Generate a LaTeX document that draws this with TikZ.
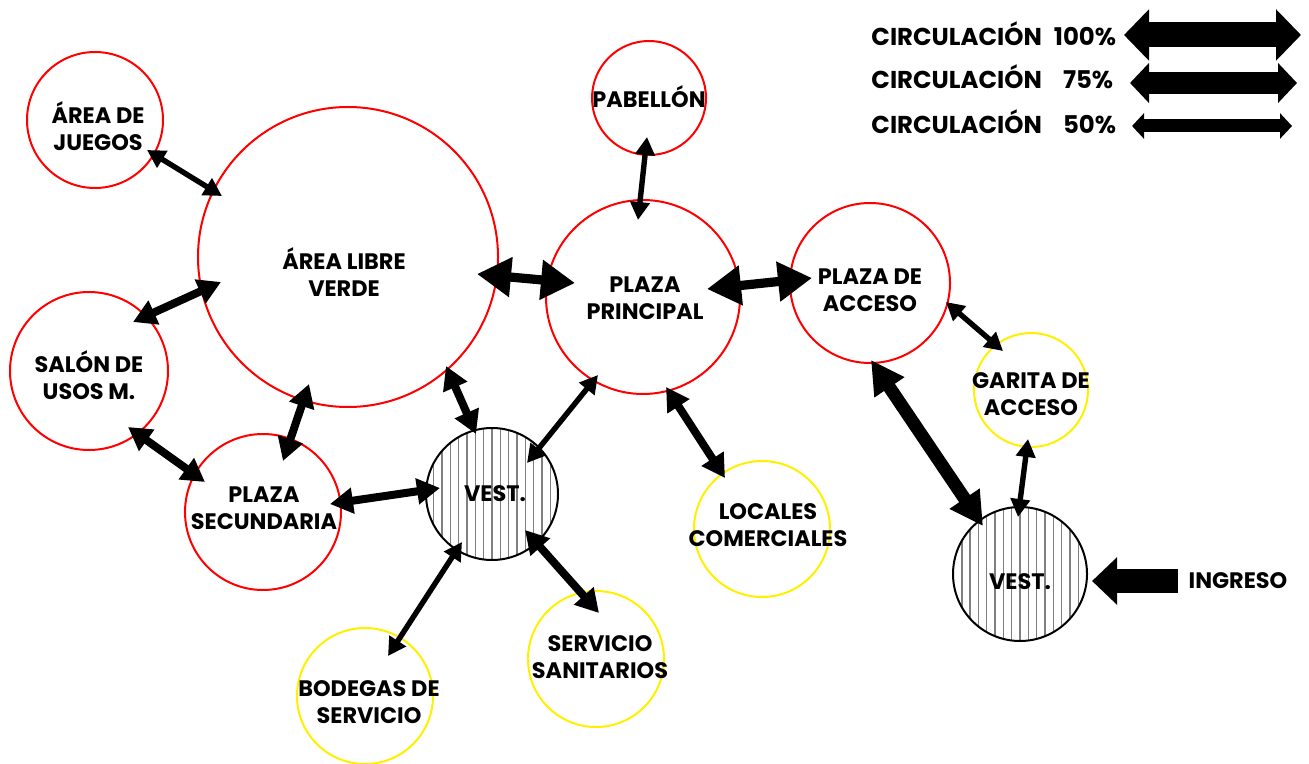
\documentclass[tikz,border=0pt]{standalone}
\usepackage{fontspec}
\setmainfont{Poppins}
\usetikzlibrary{arrows.meta}
\begin{document}
\begin{tikzpicture}[x=0.5pt,y=-0.5pt,
  redc/.style={circle, draw=red, line width=1pt, inner sep=0pt},
  yelc/.style={circle, draw={rgb,255:red,255;green,240;blue,0}, line width=1pt, inner sep=0pt},
  vestc/.style={circle, draw=black, line width=1pt, inner sep=0pt},
  lbl/.style={font=\fontsize{11.2}{13.7}\selectfont\bfseries, align=center, inner sep=0pt},
  leglbl/.style={font=\fontsize{12.2}{14}\selectfont\bfseries, inner sep=0pt, anchor=west},
  hatchline/.style={draw=gray, line width=0.8pt},
  c50/.style={line width=2.7pt, <->, >={Triangle[length=9pt,width=9.5pt]}},
  c75/.style={line width=4pt, <->, >={Triangle[length=11.5pt,width=12.5pt]}},
  c100/.style={line width=4.6pt, <->, >={Triangle[length=17pt,width=19pt]}},
  cbig/.style={line width=6.5pt, <->, >={Triangle[length=16.5pt,width=17pt]}},
  leg100/.style={line width=12.5pt, <->, >={Triangle[length=12.5pt,width=25pt]}},
  leg75/.style={line width=11pt, <->, >={Triangle[length=9.5pt,width=19.5pt]}},
  leg50/.style={line width=6.5pt, <->, >={Triangle[length=6pt,width=12.5pt]}},
  ingarrow/.style={line width=12pt, ->, >={Triangle[length=12.5pt,width=23pt]}}
]
\useasboundingbox (0,0) rectangle (1309,764);

% hatch of the two vestibules
\coordinate (v1c) at (492,494);
\coordinate (v2c) at (1020,574);
\begin{scope}
  \clip (v1c) circle[radius=33pt];
  \foreach \i in {-8,...,8} \draw[hatchline] ({492+8.33*\i},420) -- ({492+8.33*\i},570);
\end{scope}
\begin{scope}
  \clip (v2c) circle[radius=33.5pt];
  \foreach \i in {-8,...,8} \draw[hatchline] ({1020+8.33*\i},500) -- ({1020+8.33*\i},650);
\end{scope}

% circles
\node[redc, minimum size=68pt] (juegos) at (95,120) {};
\node[redc, minimum size=150pt] (libre) at (348,257) {};
\node[redc, minimum size=57pt] (pabellon) at (649,98) {};
\node[redc, minimum size=97pt] (plazap) at (643,297) {};
\node[redc, minimum size=80pt] (plazaacc) at (870,283) {};
\node[yelc, minimum size=57pt] (garita) at (1031,390) {};
\node[redc, minimum size=79pt] (salon) at (89,371) {};
\node[redc, minimum size=78pt] (plazasec) at (263,512) {};
\node[vestc, minimum size=66pt] (vest1) at (v1c) {};
\node[yelc, minimum size=68pt] (locales) at (762,529) {};
\node[vestc, minimum size=67pt] (vest2) at (v2c) {};
\node[yelc, minimum size=68pt] (bodegas) at (365,696) {};
\node[yelc, minimum size=68pt] (sanit) at (596,659) {};

% labels
\node[lbl] (tjuegos) at (98,126) {ÁREA DE\\JUEGOS};
\node[lbl] (tlibre) at (344,272) {ÁREA LIBRE\\VERDE};
\node[lbl] (tpabellon) at (649,97) {PABELLÓN};
\node[lbl] (tplazap) at (645,298) {PLAZA\\PRINCIPAL};
\node[lbl] (tplazaacc) at (870,290) {PLAZA DE\\ACCESO};
\node[lbl] (tgarita) at (1031,394) {GARITA DE\\ACCESO};
\node[lbl] (tsalon) at (89,375) {SALÓN DE\\USOS M.};
\node[lbl] (tplazasec) at (264,508) {PLAZA\\SECUNDARIA};
\node[lbl] (tvest1) at (495,494) {VEST.};
\node[lbl] (tlocales) at (768,525) {LOCALES\\COMERCIALES};
\node[lbl] (tvest2) at (1020,582) {VEST.};
\node[lbl] (tbodegas) at (369,702) {BODEGAS DE\\SERVICIO};
\node[lbl] (tsanit) at (600,657) {SERVICIO\\SANITARIOS};
\node[lbl] (tingreso) at (1238,581) {INGRESO};

% legend
\node[leglbl] (l100) at (871,34) {CIRCULACIÓN\hspace{6pt}100\%};
\node[leglbl] (l75) at (871,77) {CIRCULACIÓN\hspace{6pt}\phantom{1}75\%};
\node[leglbl] (l50) at (871,122) {CIRCULACIÓN\hspace{6pt}\phantom{1}50\%};
\coordinate (g100a) at (1124,35); \coordinate (g100b) at (1301,35);
\coordinate (g75a) at (1130,83); \coordinate (g75b) at (1297,83);
\coordinate (g50a) at (1132,126); \coordinate (g50b) at (1292,126);
\draw[leg100] (g100a) -- (g100b);
\draw[leg75] (g75a) -- (g75b);
\draw[leg50] (g50a) -- (g50b);

% connector end points
\coordinate (a1s) at (147,150); \coordinate (a1e) at (222,196);
\coordinate (a2s) at (221,282); \coordinate (a2e) at (133,322);
\coordinate (a3s) at (309,384); \coordinate (a3e) at (283,461);
\coordinate (a4s) at (128,427); \coordinate (a4e) at (205,482);
\coordinate (a5s) at (330,504); \coordinate (a5e) at (440,488);
\coordinate (a6s) at (446,366); \coordinate (a6e) at (476,434);
\coordinate (a7s) at (477,274); \coordinate (a7e) at (575,283);
\coordinate (a8s) at (647,137); \coordinate (a8e) at (638,220);
\coordinate (a9s) at (598,375); \coordinate (a9e) at (527,463);
\coordinate (a10s) at (666,387); \coordinate (a10e) at (725,478);
\coordinate (a11s) at (707,289); \coordinate (a11e) at (812,278);
\coordinate (a12s) at (946,302); \coordinate (a12e) at (1003,351);
\coordinate (a13s) at (871,360); \coordinate (a13e) at (983,526);
\coordinate (a14s) at (1028,439); \coordinate (a14e) at (1018,517);
\coordinate (a15s) at (462,542); \coordinate (a15e) at (388,656);
\coordinate (a16s) at (525,530); \coordinate (a16e) at (599,613);
\coordinate (ing) at (1178,581); \coordinate (ingtip) at (1092,581);

% connectors
\draw[c50] (a1s) -- (a1e);
\draw[c75] (a2s) -- (a2e);
\draw[c75] (a3s) -- (a3e);
\draw[c75] (a4s) -- (a4e);
\draw[c75] (a5s) -- (a5e);
\draw[c75] (a6s) -- (a6e);
\draw[c100] (a7s) -- (a7e);
\draw[c50] (a8s) -- (a8e);
\draw[c50] (a9s) -- (a9e);
\draw[c75] (a10s) -- (a10e);
\draw[c100] (a11s) -- (a11e);
\draw[c50] (a12s) -- (a12e);
\draw[cbig] (a13s) -- (a13e);
\draw[c50] (a14s) -- (a14e);
\draw[c50] (a15s) -- (a15e);
\draw[c75] (a16s) -- (a16e);
\draw[ingarrow] (ing) -- (ingtip);
\end{tikzpicture}
\end{document}
